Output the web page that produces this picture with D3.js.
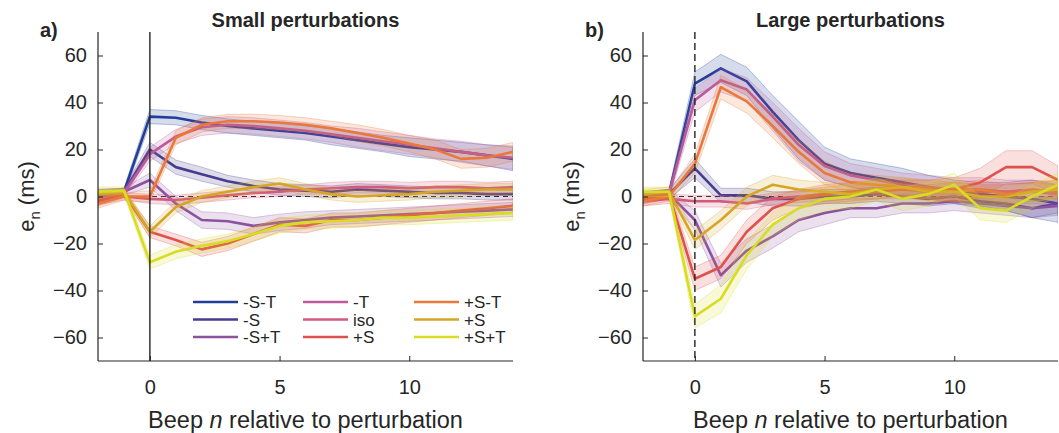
<!DOCTYPE html>
<html>
<head>
<meta charset="utf-8">
<script src="https://cdn.jsdelivr.net/npm/d3@7"></script>
<style>
body { margin: 0; background: #fff; }
text { font-family: "Liberation Sans", Arial, Helvetica, sans-serif; fill: #262626; }
</style>
</head>
<body>
<svg id="chart" width="1059" height="433"></svg>
<script>
// beep index relative to perturbation
const beeps = [-2, -1, 0, 1, 2, 3, 4, 5, 6, 7, 8, 9, 10, 11, 12, 13, 14];

const seriesNames = ["-S-T", "-S", "-S+T", "-T", "iso", "+S", "+S-T", "+S", "+S+T"];
const seriesColors = ["#213e98", "#463d8c", "#8c52a0", "#bb5b9c", "#d35a7c", "#e0514b", "#e9783a", "#d6a526", "#d9dc22"];

const yTicks = [-60, -40, -20, 0, 20, 40, 60];
const xTicks = [0, 5, 10];

// a) small perturbations: means and standard errors (ms)
const smallSmT    = [0, 2, 34, 33.5, 31.5, 30, 29, 28, 27, 25.5, 24, 22.5, 21, 20, 19, 17.5, 16];
const smallSmTse  = [2, 1.5, 3, 3, 3, 3, 3, 3, 3, 3.5, 3.5, 3.5, 4, 4, 4, 4.5, 5];
const smallSm     = [1, 2, 20, 12.5, 9.5, 6.5, 4.5, 3, 2.5, 2, 3, 2.5, 2, 1.5, 1.5, 1, 1];
const smallSmse   = [2, 1.5, 3, 3, 3, 2.5, 2.5, 2.5, 2.5, 2.5, 2.5, 2.5, 2.5, 2.5, 2.5, 2.5, 2.5];
const smallSpT    = [1, 2, 7, -3, -10, -10.5, -12.5, -11, -10, -9, -8.5, -8, -7.5, -7, -6.5, -6, -5.5];
const smallSpTse  = [2, 1.5, 3, 3, 3.5, 3.5, 3.5, 3.5, 3.5, 3, 3, 3, 3, 3, 3, 3, 3];
const smallmT     = [-1, 1.5, 18, 25.5, 29.5, 30.5, 30, 29, 28, 26.5, 25, 23.5, 22, 20.5, 19, 17.5, 16.5];
const smallmTse   = [2, 1.5, 3, 3, 3.5, 3.5, 3.5, 3.5, 3.5, 3.5, 4, 4, 4, 4, 4.5, 4.5, 5];
const smallIso    = [-1.5, 0, -1, -1.5, -0.5, 0.5, 1.5, 2, 3, 3.5, 4, 4, 3.5, 4, 4, 3.5, 4];
const smallIsose  = [2, 1.5, 2, 2, 2, 2, 2, 2, 2, 2.5, 2.5, 2.5, 2.5, 2.5, 2.5, 2.5, 2.5];
const smallpS1    = [-2, 1, -15, -18.5, -22.5, -20, -16, -12, -12.5, -10, -10, -9, -8, -7, -6, -5, -4];
const smallpS1se  = [2, 1.5, 2.5, 2.5, 3, 3, 3, 3, 3, 3, 3, 3, 3, 3, 3, 3, 3];
const smallpSmT   = [-3, 0, 0, 25, 30.5, 32, 32, 31.5, 30.5, 29, 27, 25, 22.5, 20, 16, 16.5, 19];
const smallpSmTse = [2, 1.5, 2.5, 3, 3, 3, 3, 3, 3, 3, 3.5, 3.5, 3.5, 4, 4, 4, 4];
const smallpS2    = [1, 2, -15, -4.5, 0, 2, 4, 5.5, 3, 1, 0, 0.5, 1, 2, 2.5, 3, 3];
const smallpS2se  = [2, 1.5, 2.5, 2.5, 2.5, 2.5, 2.5, 2.5, 2.5, 2.5, 2.5, 2.5, 2.5, 2.5, 2.5, 2.5, 2.5];
const smallpSpT   = [2, 2.5, -28, -23.5, -21, -19, -16, -12.5, -11, -10.5, -10, -9, -9, -8.5, -8, -7.5, -7];
const smallpSpTse = [2, 1.5, 3, 3, 3, 3, 3, 3, 3, 3, 3, 3, 3, 3, 3, 3, 3];

// b) large perturbations
const largeSmT    = [0, 1, 48, 54.5, 49, 36, 24, 14, 10, 8, 6, 4, 2, 1, 0, -1, -3];
const largeSmTse  = [2, 2, 5, 6, 6, 7, 8, 7, 6, 6, 6, 5, 5, 5, 6, 8, 8];
const largeSm     = [0, 1, 12, 0.5, 0.5, -1, -1, 0, 0, 1, 0, -1, 0, -2, -3, -5, -3];
const largeSmse   = [2, 2, 4, 3, 3, 3, 3, 3, 3, 3, 3, 3, 3, 3, 3, 4, 4];
const largeSpT    = [0, 1, -10, -33.5, -23, -17, -10, -7, -5, -5, -3, -3, -2, -3, -4, -5, -4];
const largeSpTse  = [2, 2, 4, 5, 5, 5, 5, 5, 4, 4, 4, 4, 4, 4, 4, 4, 4];
const largemT     = [-1, 1, 41, 49.5, 45.5, 34, 22, 13, 9, 7, 5, 4, 3, 3, 2, 2, 1];
const largemTse   = [2, 2, 5, 5, 5, 6, 7, 6, 5, 5, 5, 5, 5, 5, 5, 5, 5];
const largeIso    = [-2, -1, -2, -2, -3, -1, 0, 1, 2, 2, 3, 2, 3, 2, 2, 3, 2];
const largeIsose  = [2, 2, 2.5, 2.5, 2.5, 2.5, 2.5, 3, 3, 3, 3, 3, 3, 3, 3, 3, 3];
const largepS1    = [-1, 1, -35, -30, -15, -5, -1, 1, 2, 3, 3, 3, 3, 6, 12.5, 12.5, 7];
const largepS1se  = [2, 2, 5, 5, 5, 5, 4, 4, 4, 4, 4, 4, 5, 6, 7, 7, 6];
const largepSmT   = [-2, 0, 14, 46.5, 40.5, 30, 19, 10, 6, 5, 4, 3, 2, 3, 1, 2, 3];
const largepSmTse = [2, 2, 4, 5, 5, 5, 5, 5, 4, 4, 4, 4, 4, 4, 4, 4, 4];
const largepS2    = [1, 2, -18.5, -10, 0, 5, 3, 2, 1, 3, 4, 2, 2, 0, 0, 2, 3];
const largepS2se  = [2, 2, 4, 4, 4, 4, 4, 4, 4, 4, 4, 4, 4, 4, 4, 4, 4];
const largepSpT   = [2, 2, -51, -43.5, -25, -12, -5, -1, 0, 3, -1, 1, 5, -5, -6, 0, 5];
const largepSpTse = [2, 2, 5, 6, 6, 5, 5, 5, 5, 5, 5, 5, 5, 5, 5, 5, 5];

const smallMeans = [smallSmT, smallSm, smallSpT, smallmT, smallIso, smallpS1, smallpSmT, smallpS2, smallpSpT];
const smallSE = [smallSmTse, smallSmse, smallSpTse, smallmTse, smallIsose, smallpS1se, smallpSmTse, smallpS2se, smallpSpTse];
const largeMeans = [largeSmT, largeSm, largeSpT, largemT, largeIso, largepS1, largepSmT, largepS2, largepSpT];
const largeSE = [largeSmTse, largeSmse, largeSpTse, largemTse, largeIsose, largepS1se, largepSmTse, largepS2se, largepSpTse];

const svg = d3.select("#chart");
const axisColor = "#262626";
const plotTop = 32, plotBottom = 361;

function drawPanel(opts) {
    const x = d3.scaleLinear().domain([-2, 14]).range([opts.left, opts.right]);
    const y = d3.scaleLinear().domain([-70, 70]).range([plotBottom, plotTop]);
    const g = svg.append("g");

    g.append("clipPath").attr("id", opts.id + "clip")
        .append("rect")
        .attr("x", opts.left).attr("y", plotTop)
        .attr("width", opts.right - opts.left).attr("height", plotBottom - plotTop);

    const plot = g.append("g").attr("clip-path", `url(#${opts.id}clip)`);

    // zero reference line
    plot.append("line")
        .attr("x1", x(-2)).attr("x2", x(14))
        .attr("y1", y(0)).attr("y2", y(0))
        .attr("stroke", axisColor).attr("stroke-width", 1)
        .attr("stroke-dasharray", "5,4");

    opts.means.forEach((m, i) => {
        const rows = beeps.map((b, j) => ({ b: b, m: m[j], se: opts.se[i][j] }));
        const area = d3.area()
            .x(d => x(d.b))
            .y0(d => y(d.m - d.se))
            .y1(d => y(d.m + d.se));
        const line = d3.line()
            .x(d => x(d.b))
            .y(d => y(d.m));
        plot.append("path")
            .datum(rows)
            .attr("d", area)
            .attr("fill", seriesColors[i])
            .attr("fill-opacity", 0.18)
            .attr("stroke", seriesColors[i])
            .attr("stroke-opacity", 0.3)
            .attr("stroke-width", 1);
        plot.append("path")
            .datum(rows)
            .attr("d", line)
            .attr("fill", "none")
            .attr("stroke", seriesColors[i])
            .attr("stroke-width", 2.6)
            .attr("stroke-linejoin", "round");
    });

    // perturbation line
    g.append("line")
        .attr("x1", x(0)).attr("x2", x(0))
        .attr("y1", plotTop).attr("y2", plotBottom)
        .attr("stroke", axisColor).attr("stroke-width", 1.4)
        .attr("stroke-dasharray", opts.dashed ? "7,4" : null);

    // Y axis
    const ya = g.append("g")
        .attr("transform", `translate(${opts.left},0)`)
        .call(d3.axisLeft(y).tickValues(yTicks).tickSizeInner(-5).tickSizeOuter(0).tickPadding(11));
    // X axis
    const xa = g.append("g")
        .attr("transform", `translate(0,${plotBottom})`)
        .call(d3.axisBottom(x).tickValues(xTicks).tickSizeInner(-5).tickSizeOuter(0).tickPadding(19));
    [ya, xa].forEach(a => {
        a.select(".domain").attr("stroke", axisColor).attr("stroke-width", 1.2);
        a.selectAll(".tick line").attr("stroke", axisColor);
        a.selectAll("text")
            .attr("fill", axisColor)
            .style("font-size", "20px")
            .style("font-family", '"Liberation Sans", Arial, sans-serif');
    });
    ya.select(".domain").attr("d", `M0,${plotTop}V${plotBottom}`);
    xa.select(".domain").attr("d", `M${opts.left},0H${opts.right}`);

    // Title
    g.append("text")
        .attr("x", (opts.left + opts.right) / 2)
        .attr("y", 27)
        .attr("text-anchor", "middle")
        .style("font-size", "20px")
        .style("font-weight", "bold")
        .text(opts.title);

    g.append("text")
        .attr("x", opts.left - 58)
        .attr("y", 37)
        .style("font-size", "20px")
        .style("font-weight", "bold")
        .text(opts.tag);

    // Axis labels
    const yl = g.append("text")
        .attr("transform", `translate(${opts.left - 64},${y(0)}) rotate(-90)`)
        .attr("text-anchor", "middle")
        .style("font-size", "22px");
    yl.append("tspan").text("e");
    yl.append("tspan").attr("dy", 6).style("font-size", "15px").text("n");
    yl.append("tspan").attr("dy", -6).text(" (ms)");

    const xl = g.append("text")
        .attr("x", (opts.left + opts.right) / 2)
        .attr("y", 428)
        .attr("text-anchor", "middle")
        .style("font-size", "23.5px");
    xl.append("tspan").text("Beep ");
    xl.append("tspan").style("font-style", "italic").text("n");
    xl.append("tspan").text(" relative to perturbation");
}

drawPanel({ id: "a", left: 98, right: 513, means: smallMeans, se: smallSE,
    title: "Small perturbations", tag: "a)", dashed: false });
drawPanel({ id: "b", left: 643, right: 1058, means: largeMeans, se: largeSE,
    title: "Large perturbations", tag: "b)", dashed: true });

// Legend (3 rows, column-major)
const legend = svg.append("g");
const colX = [193, 303, 414];
const rowY = [302, 319.5, 337];
seriesNames.forEach((name, i) => {
    const cx = colX[Math.floor(i / 3)];
    const cy = rowY[i % 3];
    legend.append("line")
        .attr("x1", cx).attr("x2", cx + 45)
        .attr("y1", cy).attr("y2", cy)
        .attr("stroke", seriesColors[i])
        .attr("stroke-width", 2.6);
    legend.append("text")
        .attr("x", cx + 50)
        .attr("y", cy + 6)
        .style("font-size", "17px")
        .text(name);
});
</script>
</body>
</html>
